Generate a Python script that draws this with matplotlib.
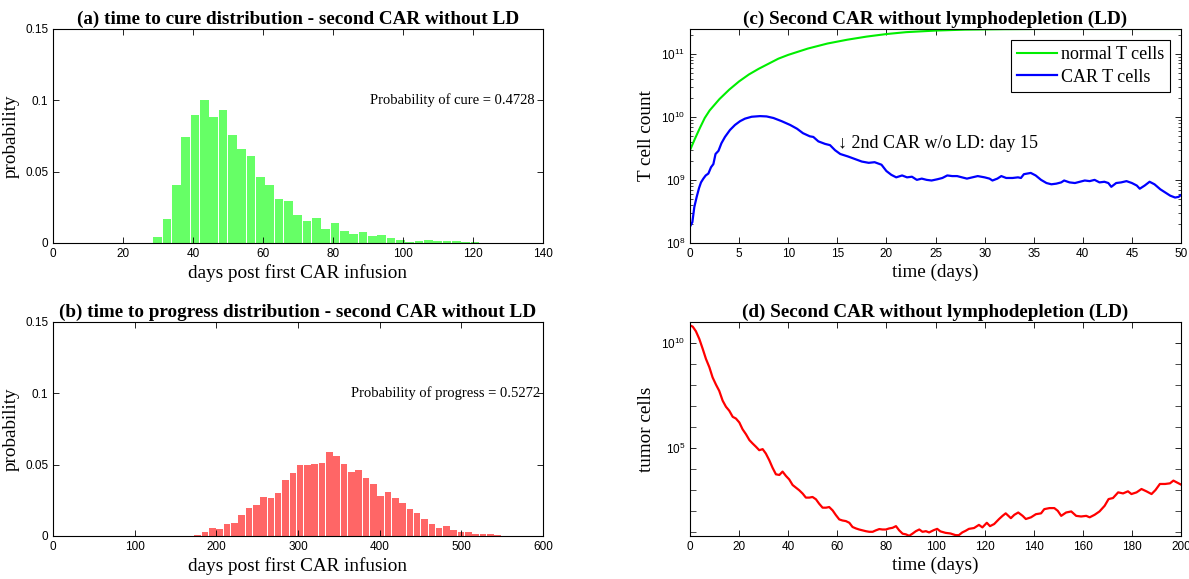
import numpy as np
import matplotlib.pyplot as plt
from matplotlib.ticker import LogLocator, NullFormatter, FixedLocator

# histogram (a): time to cure, bin centers start at ~29.9 days, width ~2.667
cure_start, cure_width = 29.9, 2.667
cure_prob = [0.0039, 0.0165, 0.041, 0.074, 0.090, 0.100, 0.088, 0.093, 0.076, 0.066,
             0.0608, 0.0463, 0.041, 0.0308, 0.0294, 0.0198, 0.0151, 0.0177, 0.0101, 0.014,
             0.0081, 0.006, 0.008, 0.0052, 0.0058, 0.0037, 0.0024, 0.0005, 0.0016, 0.0022,
             0.0014, 0.0012, 0.0012, 0.001, 0.001, 0.0003]

# histogram (b): time to progress
prog_start, prog_width = 168.2, 8.96
prog_prob = [0.0003, 0.0004, 0.0028, 0.0056, 0.0047, 0.0084, 0.0091, 0.015, 0.0199, 0.022,
             0.0271, 0.0269, 0.030, 0.039, 0.0439, 0.0495, 0.050, 0.0507, 0.0512, 0.0589,
             0.0563, 0.0507, 0.0449, 0.0463, 0.0407, 0.0365, 0.0283, 0.0308, 0.0266, 0.0229,
             0.0192, 0.0164, 0.0117, 0.0084, 0.0056, 0.007, 0.0042, 0.003, 0.0028, 0.0014,
             0.0014, 0.0012, 0.0005, 0.0003, 0.0002, 0.0003]

# (c) T cells, log10 of counts
normal_t = [0, 0.5, 1, 1.5, 2, 3, 4, 5, 6, 7, 8, 9, 10, 12, 14, 16, 18, 20, 22, 25, 28, 32, 36, 50]
normal_log = [9.47, 9.65, 9.82, 9.98, 10.1, 10.28, 10.43, 10.56, 10.67, 10.76, 10.84, 10.92,
              10.98, 11.08, 11.16, 11.22, 11.27, 11.31, 11.34, 11.365, 11.38, 11.387, 11.39, 11.39]

car_t = [0, 0.24, 0.44, 0.68, 0.92, 1.12, 1.36, 1.6, 1.87, 2.14, 2.38, 2.6, 2.9, 3.2, 3.56,
         4.07, 4.58, 5.1, 5.6, 6.28, 7.13, 7.8, 8.5, 9.33, 10.2, 10.9, 11.5, 12.2, 12.56, 13.07,
         13.75, 14.26, 14.77, 15.3, 16.1, 16.8, 17.5, 18.2, 18.8, 19.5, 20.0, 20.5, 21.0, 21.6,
         22.1, 22.6, 23.1, 23.6, 24.1, 24.6, 25.2, 25.7, 26.2, 26.7, 27.2, 27.7, 28.2, 28.75,
         29.3, 30.0, 30.5, 30.8, 31.3, 31.7, 32.2, 32.85, 33.4, 33.7, 34.0, 34.7, 35.2, 35.75,
         36.3, 36.8, 37.3, 37.8, 38.1, 38.65, 39.2, 39.7, 40.2, 40.7, 41.2, 41.7, 42.2, 42.6,
         42.9, 43.4, 43.9, 44.45, 45.0, 45.5, 45.8, 46.3, 46.8, 47.3, 47.9, 48.4, 48.9, 49.4,
         49.75, 50.0]
car_log = [8.26, 8.33, 8.57, 8.73, 8.87, 8.96, 9.02, 9.07, 9.1, 9.2, 9.25, 9.41, 9.46, 9.58, 9.68,
           9.79, 9.87, 9.93, 9.97, 10.0, 10.01, 10.005, 9.98, 9.93, 9.87, 9.81, 9.74, 9.69, 9.68, 9.61,
           9.57, 9.55, 9.47, 9.41, 9.37, 9.33, 9.29, 9.27, 9.28, 9.24, 9.14, 9.08, 9.04, 9.07,
           9.04, 9.05, 9.0, 9.02, 9.0, 8.99, 9.01, 9.03, 9.07, 9.06, 9.06, 9.04, 9.02, 9.04,
           9.06, 9.04, 9.02, 8.99, 9.02, 9.06, 9.03, 9.03, 9.04, 9.03, 9.09, 9.11, 9.07, 9.0,
           8.95, 8.93, 8.94, 8.96, 8.99, 8.96, 8.95, 8.97, 8.99, 8.98, 9.0, 8.96, 8.97, 8.95,
           8.89, 8.95, 8.96, 8.98, 8.95, 8.91, 8.86, 8.91, 8.97, 8.93, 8.85, 8.8, 8.75, 8.72,
           8.73, 8.76]

# (d) tumor cells, log10 of counts
tumor_t = [0, 1.1, 2.4, 3.8, 5.2, 6.5, 7.9, 9.2, 10.6, 11.9, 13.3, 14.65, 16.0, 17.4, 18.7,
           20.1, 21.4, 22.8, 24.2, 25.5, 26.9, 28.2, 29.6, 30.9, 32.3, 33.6, 35.0, 36.4, 37.7,
           39.1, 40.4, 41.8, 43.1, 44.5, 45.9, 47.2, 48.6, 49.9, 51.3, 52.6, 54.0, 55.4, 56.7,
           58.1, 59.4, 60.8, 62.1, 63.5, 64.9, 66.2, 67.6, 68.9, 70.3, 71.6, 73.0, 74.4, 75.7,
           77.1, 78.4, 79.8, 81.1, 82.5, 83.9, 85.2, 86.6, 87.9, 89.3, 90.6, 92.0, 93.4, 94.7,
           96.1, 97.4, 99.3, 100.7, 102, 104.1, 106.1, 108.2, 109.5, 110.9, 112.3, 113.6, 115.7,
           117.7, 119.1, 120.9, 122.2, 123.9, 125.9, 127.3, 128.6, 130.7, 132.1, 133.7, 135.5,
           136.8, 138.9, 140.9, 143, 144.3, 146.4, 148.4, 149.8, 151.2, 153.2, 155.3, 157.3,
           159.3, 161.4, 162.8, 164.8, 166.8, 168.9, 170.5, 172.3, 174.4, 176.4, 178.4, 179.8,
           181.9, 183.9, 185.9, 188, 189.6, 191.4, 193.5, 195.5, 196.9, 198.2, 200]
tumor_log = [10.84, 10.78, 10.56, 10.19, 9.71, 9.24, 8.84, 8.36, 8.01, 7.72, 7.25, 6.96, 6.77,
             6.48, 6.40, 6.21, 5.89, 5.65, 5.37, 5.21, 5.05, 4.89, 4.94, 4.73, 4.41, 4.06, 3.74,
             3.71, 3.87, 3.66, 3.50, 3.23, 3.11, 2.98, 2.82, 2.63, 2.63, 2.66, 2.55, 2.34, 2.15,
             2.15, 2.18, 2.02, 1.80, 1.59, 1.54, 1.51, 1.43, 1.23, 1.16, 1.11, 1.07, 1.03, 1.0,
             1.0, 1.07, 1.13, 1.11, 1.11, 1.16, 1.19, 1.27, 1.07, 0.91, 0.88, 0.81, 0.91, 1.03,
             1.11, 1.0, 1.03, 0.97, 1.08, 1.14, 1.02, 0.95, 0.92, 0.84, 0.84, 0.97, 1.05, 1.14,
             1.18, 1.33, 1.21, 1.43, 1.27, 1.37, 1.61, 1.76, 1.88, 1.65, 1.81, 1.92, 1.76, 1.61,
             1.69, 1.84, 1.88, 2.08, 2.13, 2.13, 2.0, 1.76, 1.92, 1.97, 1.76, 1.73, 1.76, 1.69,
             1.81, 1.97, 2.24, 2.56, 2.61, 2.88, 2.83, 2.93, 2.80, 2.88, 3.04, 2.93, 2.80, 2.99,
             3.28, 3.28, 3.31, 3.44, 3.36, 3.25]

plt.rcParams['font.family'] = 'Liberation Sans'
plt.rcParams['mathtext.fontset'] = 'custom'
plt.rcParams['mathtext.rm'] = 'Liberation Sans'
plt.rcParams['axes.linewidth'] = 0.8
SERIF = ['Liberation Serif', 'DejaVu Serif']

fig = plt.figure(figsize=(11.89, 5.79), dpi=100)
W, H = 1189, 579


def make_ax(x0, y0, x1, y1):
    return fig.add_axes([x0 / W, 1 - y1 / H, (x1 - x0) / W, (y1 - y0) / H])


def style(ax):
    ax.tick_params(direction='in', top=True, right=True, labelsize=8.5, length=4, width=0.6)
    ax.tick_params(which='minor', direction='in', top=True, right=True, length=2.5, width=0.5)


def labels(ax, title, xlabel, ylabel):
    ax.set_title(title, fontsize=13.8, fontweight='bold', family=SERIF, pad=4)
    ax.set_xlabel(xlabel, fontsize=13.8, family=SERIF, labelpad=3)
    ax.set_ylabel(ylabel, fontsize=13.8, family=SERIF, labelpad=4)


ax_a = make_ax(53, 29, 543, 243)
ax_b = make_ax(53, 322, 543, 536)
ax_c = make_ax(690, 29, 1181, 243)
ax_d = make_ax(690, 322, 1181, 536)

# (a)
xa = cure_start + cure_width * np.arange(len(cure_prob))
ax_a.bar(xa, cure_prob, width=cure_width * 0.9, color='#66ff66', edgecolor='none')
ax_a.set_xlim(0, 140)
ax_a.set_ylim(0, 0.15)
ax_a.set_xticks(range(0, 141, 20))
ax_a.set_yticks([0, 0.05, 0.1, 0.15])
ax_a.set_yticklabels(['0', '0.05', '0.1', '0.15'])
ax_a.text(137.5, 0.1, 'Probability of cure = 0.4728', ha='right', va='center',
          fontsize=10.5, family=SERIF)
labels(ax_a, '(a) time to cure distribution - second CAR without LD',
       'days post first CAR infusion', 'probability')
style(ax_a)

# (b)
xb = prog_start + prog_width * np.arange(len(prog_prob))
ax_b.bar(xb, prog_prob, width=prog_width * 0.9, color='#ff6666', edgecolor='none')
ax_b.set_xlim(0, 600)
ax_b.set_ylim(0, 0.15)
ax_b.set_xticks(range(0, 601, 100))
ax_b.set_yticks([0, 0.05, 0.1, 0.15])
ax_b.set_yticklabels(['0', '0.05', '0.1', '0.15'])
ax_b.text(597, 0.1, 'Probability of progress = 0.5272', ha='right', va='center',
          fontsize=10.5, family=SERIF)
labels(ax_b, '(b) time to progress distribution - second CAR without LD',
       'days post first CAR infusion', 'probability')
style(ax_b)

# (c)
ax_c.semilogy(normal_t, np.power(10.0, normal_log), color='#00ee00', lw=1.5, label='normal T cells')
ax_c.semilogy(car_t, np.power(10.0, car_log), color='#0000ff', lw=1.6, label='CAR T cells')
ax_c.set_xlim(0, 50)
ax_c.set_ylim(1e8, 10 ** 11.39)
ax_c.set_xticks(range(0, 51, 5))
ax_c.yaxis.set_major_locator(FixedLocator([1e8, 1e9, 1e10, 1e11]))
ax_c.yaxis.set_minor_locator(LogLocator(base=10, subs=np.arange(2, 10)))
ax_c.yaxis.set_minor_formatter(NullFormatter())
ax_c.text(15.1, 10 ** 9.57, '\u2193 2nd CAR w/o LD: day 15', ha='left', va='center',
          fontsize=13, family=SERIF)
leg = ax_c.legend(loc='upper right', prop={'family': SERIF, 'size': 13}, fancybox=False,
                  framealpha=1, edgecolor='black', handlelength=2.2, handletextpad=0.2,
                  borderpad=0.35, labelspacing=0.3, borderaxespad=0.6)
leg.get_frame().set_linewidth(0.8)
labels(ax_c, '(c) Second CAR without lymphodepletion (LD)', 'time (days)', 'T cell count')
style(ax_c)

# (d)
ax_d.semilogy(tumor_t, np.power(10.0, tumor_log), color='#ff0000', lw=1.6)
ax_d.set_xlim(0, 200)
ax_d.set_ylim(10 ** 0.8, 10 ** 11.0)
ax_d.set_xticks(range(0, 201, 20))
ax_d.yaxis.set_major_locator(FixedLocator([1e5, 1e10]))
ax_d.yaxis.set_minor_locator(FixedLocator([10.0 ** k for k in range(1, 12)]))
ax_d.yaxis.set_minor_formatter(NullFormatter())
labels(ax_d, '(d) Second CAR without lymphodepletion (LD)', 'time (days)', 'tumor cells')
style(ax_d)
ax_d.tick_params(which='minor', length=4)

fig.savefig('out.png', dpi=100)
